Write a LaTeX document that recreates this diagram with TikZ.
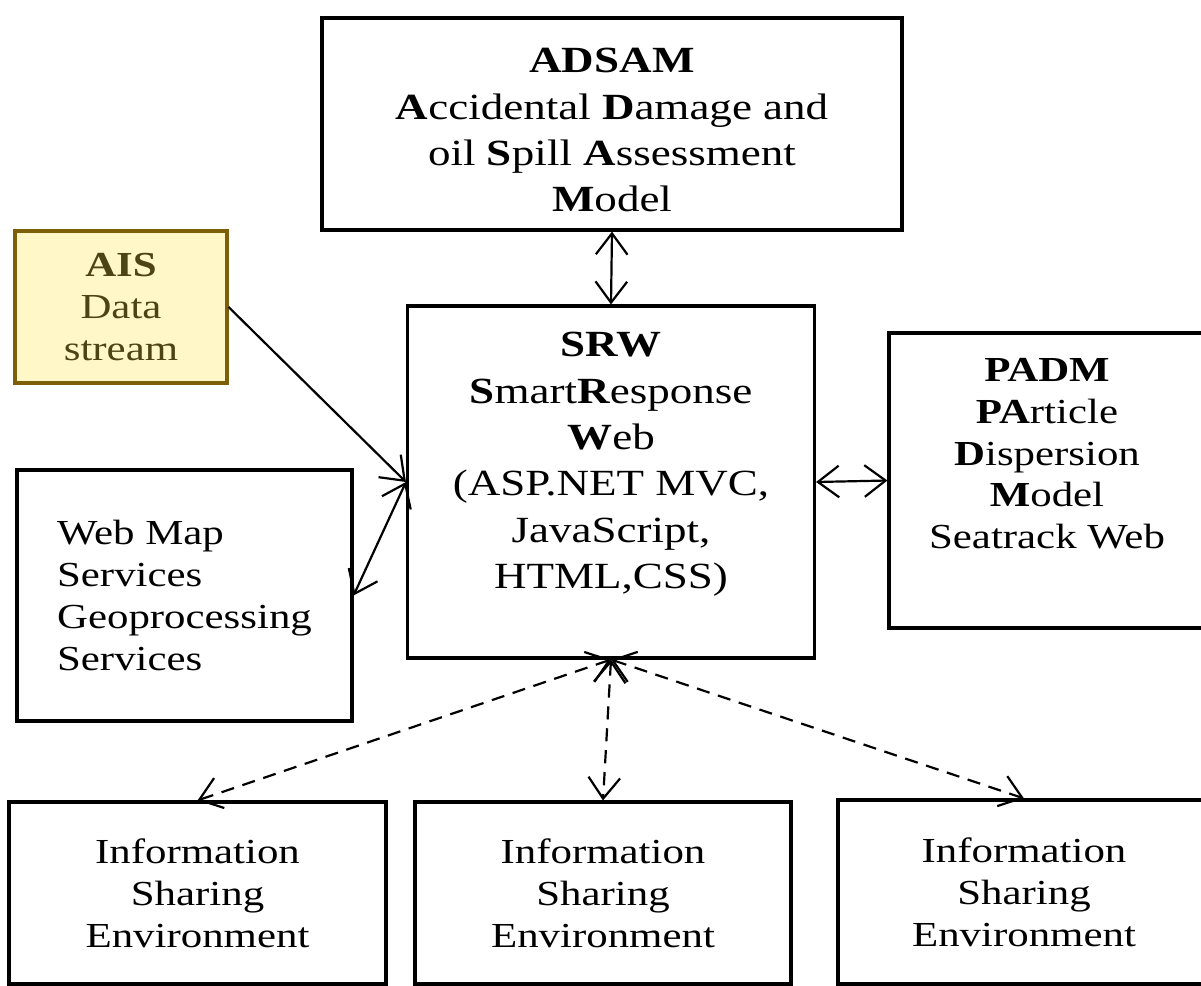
\documentclass[tikz,border=0pt]{standalone}
\usepackage{fontspec}
\setmainfont[FakeStretch=1.22]{Liberation Serif}
\usepackage{tikz}
\usetikzlibrary{positioning, arrows.meta}
\usepackage{xcolor}
\definecolor{aisfill}{RGB}{255,247,200}
\definecolor{aisdraw}{RGB}{125,95,10}
\definecolor{aistext}{RGB}{75,68,20}

\begin{document}
\begin{tikzpicture}[
  x=0.02cm, y=-0.02cm,
  box/.style={draw, line width=1.8pt, align=center, inner sep=0pt, font=\fontsize{20}{23.8}\selectfont},
  bigbox/.style={box, font=\fontsize{21}{26.4}\selectfont},
  >={Straight Barb[length=12pt, width=18pt]},
  arr/.style={line width=1.25pt},
  dsh/.style={line width=1.25pt, dash pattern=on 7.5pt off 5pt},
]
  \useasboundingbox (0,0) rectangle (1201,985);
  \node[bigbox, minimum width=11.6cm, minimum height=4.24cm] (adsam) at (612,124)
    {\rule{0pt}{21pt}\textbf{ADSAM}\\\textbf{A}ccidental \textbf{D}amage and\\oil \textbf{S}pill \textbf{A}ssessment\\\textbf{M}odel};
  \node[box, fill=aisfill, draw=aisdraw, text=aistext, minimum width=4.24cm, minimum height=3.04cm] (ais) at (121,307)
    {\textbf{AIS}\\Data\\stream};
  \node[bigbox, minimum width=8.14cm, minimum height=7.04cm] (srw) at (611,482)
    {\textbf{SRW}\\\textbf{S}mart\textbf{R}esponse\\\textbf{W}eb\\(ASP.NET MVC,\\JavaScript,\\HTML,CSS)\\[-2pt]\mbox{}};
  \node[box, minimum width=6.32cm, minimum height=5.9cm] (padm) at (1047,480.5)
    {\textbf{PADM}\\\textbf{PA}rticle\\\textbf{D}ispersion\\\textbf{M}odel\\Seatrack Web\\[7pt]\mbox{}};
  \node[box, align=left, minimum width=6.7cm, minimum height=5.02cm] (wms) at (184.5,595.5)
    {Web Map\\Services\\Geoprocessing\\Services};
  \node[box, minimum width=7.54cm, minimum height=3.64cm] (ise1) at (197.5,893)
    {Information\\Sharing\\Environment};
  \node[box, minimum width=7.52cm, minimum height=3.64cm] (ise2) at (603,893)
    {Information\\Sharing\\Environment};
  \node[box, minimum width=7.44cm, minimum height=3.68cm] (ise3) at (1024,892)
    {Information\\Sharing\\Environment};
  \draw[arr, <->] (adsam.south) -- (srw.north);
  \draw[arr, ->] (ais.east) -- (srw.west);
  \draw[arr, <->] (srw.west) -- (wms.east);
  \draw[arr, <->] (srw.east) -- (padm.west);
  \foreach \i in {ise1, ise2, ise3} \draw[dsh, <->] (srw.south) -- (\i.north);
\end{tikzpicture}
\end{document}
